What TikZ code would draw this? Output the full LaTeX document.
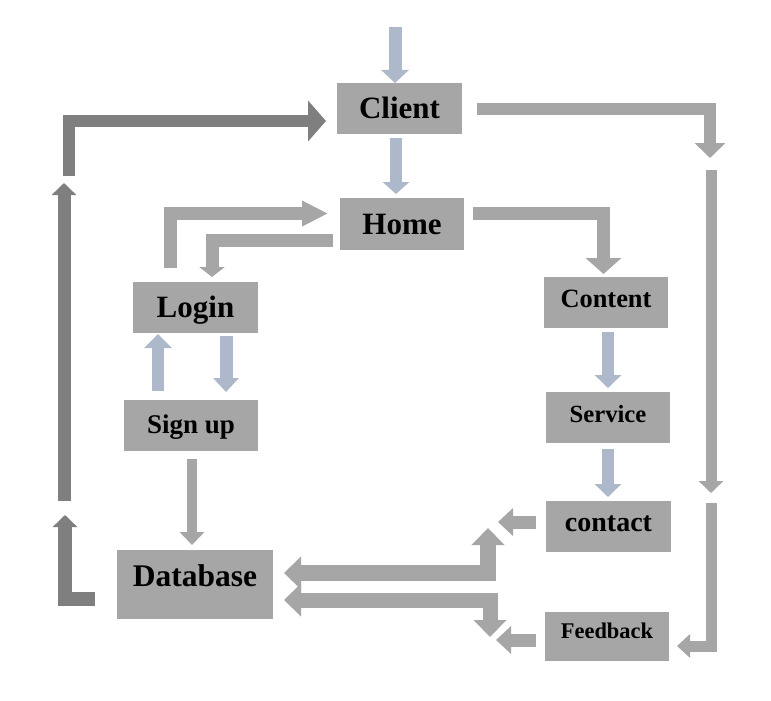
\documentclass[tikz,border=0pt]{standalone}
\usepackage{fontspec}
\setmainfont{Liberation Serif}
\usetikzlibrary{arrows.meta}
\newcommand{\myfs}[1]{\fontsize{#1}{#1}\selectfont\bfseries}
\definecolor{boxc}{HTML}{A6A6A6}
\definecolor{grayc}{HTML}{A6A6A6}
\definecolor{darkc}{HTML}{7F7F7F}
\definecolor{bluec}{HTML}{ADB9CA}
\tikzset{
  box/.style={fill=boxc, inner sep=0pt, outer sep=0pt, text=black, font=\myfs{#1}},
  bl/.style n args={3}{draw=bluec, line width=#1pt, line join=miter, -{Triangle[width=#2pt,length=#3pt]}},
  gl/.style n args={3}{draw=grayc, line width=#1pt, line join=miter, -{Triangle[width=#2pt,length=#3pt]}},
  gl2/.style n args={3}{draw=grayc, line width=#1pt, line join=miter, {Triangle[width=#2pt,length=#3pt]}-{Triangle[width=#2pt,length=#3pt]}},
  dl/.style n args={3}{draw=darkc, line width=#1pt, line join=miter, -{Triangle[width=#2pt,length=#3pt]}}
}
\begin{document}
\begin{tikzpicture}[x=1pt,y=-1pt]
\useasboundingbox (0,0) rectangle (771,701);
\fill[white] (0,0) rectangle (771,701);

% boxes
\node[box={31}, minimum width=125pt, minimum height=51pt, text height=20.5pt, text depth=0pt] (client) at (399.5,108.5) {Client};
\node[box={31}, minimum width=124pt, minimum height=52pt, text height=20.5pt, text depth=0pt] (home) at (402,224) {Home};
\node[box={31}, minimum width=125pt, minimum height=51pt, text height=20.5pt, text depth=0pt] (login) at (195.5,307.5) {Login};
\node[box={27}, minimum width=134pt, minimum height=51pt, text height=17.9pt, text depth=2pt] (signup) at (191,425.5) {Sign up};
\node[box={31.5}, minimum width=156pt, minimum height=69pt, text height=20.9pt, text depth=17pt] (database) at (195,584.5) {Database};
\node[box={26.4}, minimum width=124pt, minimum height=51pt, text height=17.5pt, text depth=7pt] (content) at (606,302.5) {Content};
\node[box={24.7}, minimum width=124pt, minimum height=51pt, text height=16.4pt, text depth=7pt] (service) at (608,417.5) {Service};
\node[box={28}, minimum width=125pt, minimum height=51pt, text height=12.8pt, text depth=3pt] (contact) at (608.5,526.5) {contact};
\node[box={22.4}, minimum width=124pt, minimum height=49pt, text height=14.8pt, text depth=10pt] (feedback) at (607,636.5) {Feedback};

% free ends
\coordinate (inTop) at (395,27);
\coordinate (r1) at (710,158);
\coordinate (r2) at (711,170);
\coordinate (r3) at (711,493);
\coordinate (r4) at (711,503);
\coordinate (c1) at (498,522);
\coordinate (c2) at (488,528);
\coordinate (c3) at (490,637);
\coordinate (c4) at (496,640);
\coordinate (l1) at (65,515);
\coordinate (l2) at (64,501);
\coordinate (l3) at (64,183);
\coordinate (l4) at (68.5,176);

% blue-grey arrows
\draw[bl={13}{27}{13}] (inTop) -- (inTop |- client.north);
\draw[bl={12.5}{26}{12}] ([xshift=-3.5pt,yshift=-4pt]client.south) -- ([xshift=-6pt,yshift=4pt]home.north);
\draw[bl={12}{26}{13}] ([xshift=2pt,yshift=-4pt]content.south) -- ([yshift=4pt]service.north);
\draw[bl={12}{26}{13}] ([yshift=-6pt]service.south) -- ([xshift=-0.5pt,yshift=4pt]contact.north);
\draw[bl={12}{27}{14}] ([xshift=-33pt,yshift=9pt]signup.north) -- ([xshift=-37.5pt,yshift=-1pt]login.south);
\draw[bl={13}{25}{14}] ([xshift=30.5pt,yshift=-3pt]login.south) -- ([xshift=35pt,yshift=8pt]signup.north);

% grey arrows
\draw[gl={12}{30}{15}] ([xshift=15pt]client.east) -| (r1);
\draw[gl={11}{24}{12}] (r2) -- (r3);
\draw[gl={11}{23}{13}] (r4) |- ([xshift=8pt,yshift=-9.5pt]feedback.east);
\draw[gl={13}{35}{16}] ([xshift=9pt,yshift=10.5pt]home.east) -| ([xshift=-2.5pt,yshift=3pt]content.north);
\draw[gl={13}{27}{15}] ([xshift=-10pt,yshift=4.5pt]contact.west) -- (c1);
\draw[gl2={16}{32}{17}] ([xshift=11pt,yshift=11.5pt]database.east) -| (c2);
\draw[gl2={15}{32}{17}] ([xshift=11pt,yshift=-15.5pt]database.east) -| (c3);
\draw[gl={13}{27}{15}] ([xshift=-9pt,yshift=-3.5pt]feedback.west) -- (c4);
\draw[gl={13}{24}{26}] ([xshift=-25.5pt,yshift=14pt]login.north) |- ([xshift=-12pt,yshift=10.5pt]home.west);
\draw[gl={13}{25}{10}] ([xshift=-7pt,yshift=-16pt]home.west) -| ([xshift=16.5pt,yshift=5pt]login.north);
\draw[gl={10}{24}{13}] ([xshift=1pt,yshift=-8pt]signup.south) -- ([xshift=-3pt,yshift=5pt]database.north);

% dark loop
\draw[dl={14}{24}{12}] ([xshift=-22pt,yshift=-14pt]database.west) -| (l1);
\draw[dl={13}{24}{12}] (l2) -- (l3);
\draw[dl={12}{40}{18}] (l4) |- ([xshift=-11pt,yshift=-12.5pt]client.west);
\end{tikzpicture}
\end{document}
